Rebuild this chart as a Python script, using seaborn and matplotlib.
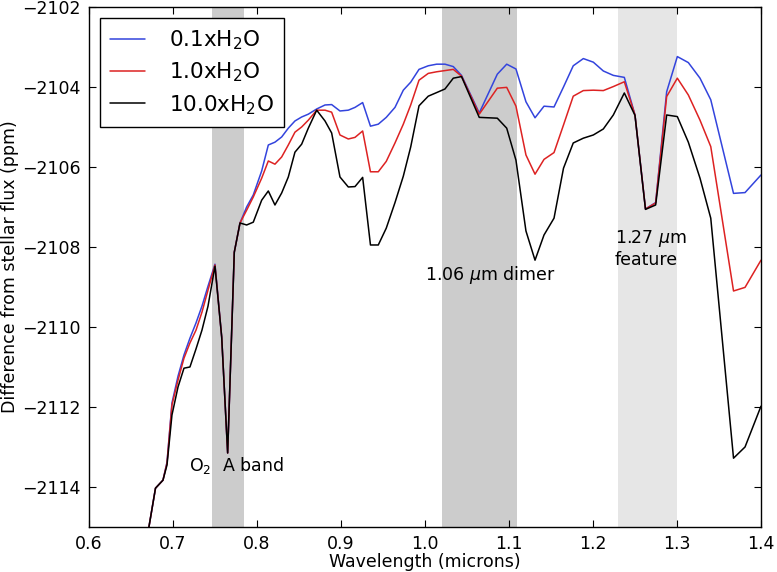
import numpy as np
import pandas as pd
import matplotlib
matplotlib.use("Agg")
import matplotlib.pyplot as plt
import seaborn as sns

# wavelength grid (microns)
wavelength = [
    0.6667, 0.6792, 0.6881, 0.6929, 0.6988, 0.7060, 0.7131, 0.7202, 0.7274,
    0.7345, 0.7417, 0.7500, 0.7580, 0.7651, 0.7730, 0.7798, 0.7877, 0.7956,
    0.8056, 0.8135, 0.8214, 0.8294, 0.8373, 0.8452, 0.8532, 0.8611, 0.8711,
    0.8810, 0.8889, 0.8988, 0.9087, 0.9167, 0.9258, 0.9351, 0.9444, 0.9539,
    0.9643, 0.9742, 0.9830, 0.9929, 1.0039, 1.0139, 1.0238, 1.0337, 1.0435,
    1.0646, 1.0861, 1.0973, 1.1083, 1.1202, 1.1310, 1.1417, 1.1536, 1.1649,
    1.1765, 1.1885, 1.2004, 1.2123, 1.2242, 1.2373, 1.2500, 1.2625, 1.2746,
    1.2877, 1.3004, 1.3135, 1.3274, 1.3402, 1.3673, 1.3810, 1.4000,
]

# difference from stellar flux (ppm) for each water abundance
flux_01 = [
    -2115.58, -2114.03, -2113.83, -2113.38, -2111.90, -2111.23, -2110.70,
    -2110.28, -2109.90, -2109.48, -2108.98, -2108.43, -2110.25, -2113.15,
    -2108.13, -2107.40, -2107.00, -2106.70, -2106.10, -2105.45, -2105.38,
    -2105.25, -2105.03, -2104.85, -2104.75, -2104.68, -2104.55, -2104.45,
    -2104.44, -2104.60, -2104.58, -2104.51, -2104.39, -2104.98, -2104.93,
    -2104.76, -2104.51, -2104.08, -2103.88, -2103.56, -2103.47, -2103.43,
    -2103.43, -2103.49, -2103.71, -2104.65, -2103.68, -2103.43, -2103.55,
    -2104.37, -2104.77, -2104.48, -2104.50, -2104.00, -2103.47, -2103.29,
    -2103.38, -2103.60, -2103.71, -2103.76, -2104.70, -2107.05, -2106.89,
    -2104.12, -2103.24, -2103.39, -2103.78, -2104.32, -2106.66, -2106.64,
    -2106.20,
]
flux_1 = [
    -2115.58, -2114.03, -2113.83, -2113.40, -2111.95, -2111.33, -2110.78,
    -2110.40, -2110.08, -2109.63, -2109.08, -2108.45, -2110.25, -2113.15,
    -2108.13, -2107.40, -2107.08, -2106.75, -2106.28, -2105.85, -2105.93,
    -2105.75, -2105.45, -2105.13, -2105.00, -2104.83, -2104.58, -2104.58,
    -2104.63, -2105.20, -2105.30, -2105.26, -2105.10, -2106.12, -2106.12,
    -2105.86, -2105.40, -2104.93, -2104.45, -2103.83, -2103.66, -2103.62,
    -2103.59, -2103.56, -2103.73, -2104.68, -2104.03, -2104.01, -2104.48,
    -2105.70, -2106.18, -2105.81, -2105.64, -2104.95, -2104.23, -2104.09,
    -2104.08, -2104.09, -2103.99, -2103.87, -2104.70, -2107.05, -2106.90,
    -2104.24, -2103.78, -2104.20, -2104.83, -2105.49, -2109.10, -2109.01,
    -2108.33,
]
flux_10 = [
    -2115.58, -2114.03, -2113.83, -2113.45, -2112.20, -2111.50, -2111.03,
    -2111.00, -2110.55, -2110.08, -2109.48, -2108.48, -2110.25, -2113.15,
    -2108.13, -2107.40, -2107.45, -2107.38, -2106.83, -2106.60, -2106.95,
    -2106.65, -2106.25, -2105.63, -2105.43, -2105.03, -2104.58, -2104.85,
    -2105.15, -2106.25, -2106.50, -2106.49, -2106.26, -2107.95, -2107.95,
    -2107.53, -2106.89, -2106.23, -2105.50, -2104.47, -2104.23, -2104.14,
    -2104.05, -2103.78, -2103.74, -2104.76, -2104.78, -2105.03, -2105.83,
    -2107.60, -2108.33, -2107.70, -2107.28, -2106.03, -2105.40, -2105.28,
    -2105.20, -2105.05, -2104.70, -2104.15, -2104.71, -2107.06, -2106.95,
    -2104.70, -2104.74, -2105.38, -2106.28, -2107.28, -2113.28, -2113.00,
    -2111.98,
]

labels = [r"0.1xH$_2$O", r"1.0xH$_2$O", r"10.0xH$_2$O"]
colors = ["#3344dd", "#dd2222", "black"]

# shaded absorption bands (microns)
band_o2a = (0.746, 0.785)
band_dimer = (1.02, 1.11)
band_127 = (1.23, 1.30)

df = pd.concat([
    pd.DataFrame({"wavelength": wavelength, "flux": f, "case": lab})
    for f, lab in zip([flux_01, flux_1, flux_10], labels)
])

sns.set_style("ticks")
plt.rcParams["font.family"] = ["DejaVu Sans"]
plt.rcParams["mathtext.fontset"] = "dejavusans"
plt.rcParams["text.color"] = "black"
plt.rcParams["axes.labelcolor"] = "black"

fig = plt.figure(figsize=(7.77, 5.72), dpi=100)
ax = fig.add_axes([0.1145, 0.0787, 0.8649, 0.9091])

ax.axvspan(*band_o2a, color="0.8", lw=0, zorder=0)
ax.axvspan(*band_dimer, color="0.8", lw=0, zorder=0)
ax.axvspan(*band_127, color="0.9", lw=0, zorder=0)

sns.lineplot(data=df, x="wavelength", y="flux", hue="case", palette=colors,
             estimator=None, sort=False, lw=1.1, ax=ax, zorder=2)

ax.set_xlim(0.6, 1.4)
ax.set_ylim(-2115, -2102)
ax.set_xticks(np.arange(0.6, 1.41, 0.1))
ax.set_yticks(np.arange(-2114, -2101, 2))
ax.tick_params(direction="in", top=True, right=True, length=5, width=0.8,
               labelsize=12.5, colors="black")
ax.tick_params(axis="x", pad=6)
ax.tick_params(axis="y", pad=6)
for s in ax.spines.values():
    s.set_linewidth(1.0)
    s.set_color("black")

ax.set_xlabel("Wavelength (microns)", fontsize=12.5, labelpad=0)
ax.set_ylabel("Difference from stellar flux (ppm)", fontsize=12.5, labelpad=2)

ax.text(0.775, -2113.47, r"O$_2$  A band", fontsize=12.5, ha="center", va="center")
ax.text(1.078, -2108.71, r"1.06 $\mu$m dimer", fontsize=12.5, ha="center", va="center")
ax.text(1.226, -2108.04, "1.27 $\\mu$m\nfeature", fontsize=12.5, ha="left",
        va="center", multialignment="left")

leg = ax.legend(loc="upper left", fontsize=15.5, frameon=True, fancybox=False,
                framealpha=1, edgecolor="black", borderaxespad=0.5,
                handlelength=1.6, handletextpad=1.1, labelspacing=0.4,
                borderpad=0.5)
leg.get_frame().set_linewidth(1.0)
for line in leg.get_lines():
    line.set_linewidth(1.1)

fig.savefig("out.png", dpi=100)
